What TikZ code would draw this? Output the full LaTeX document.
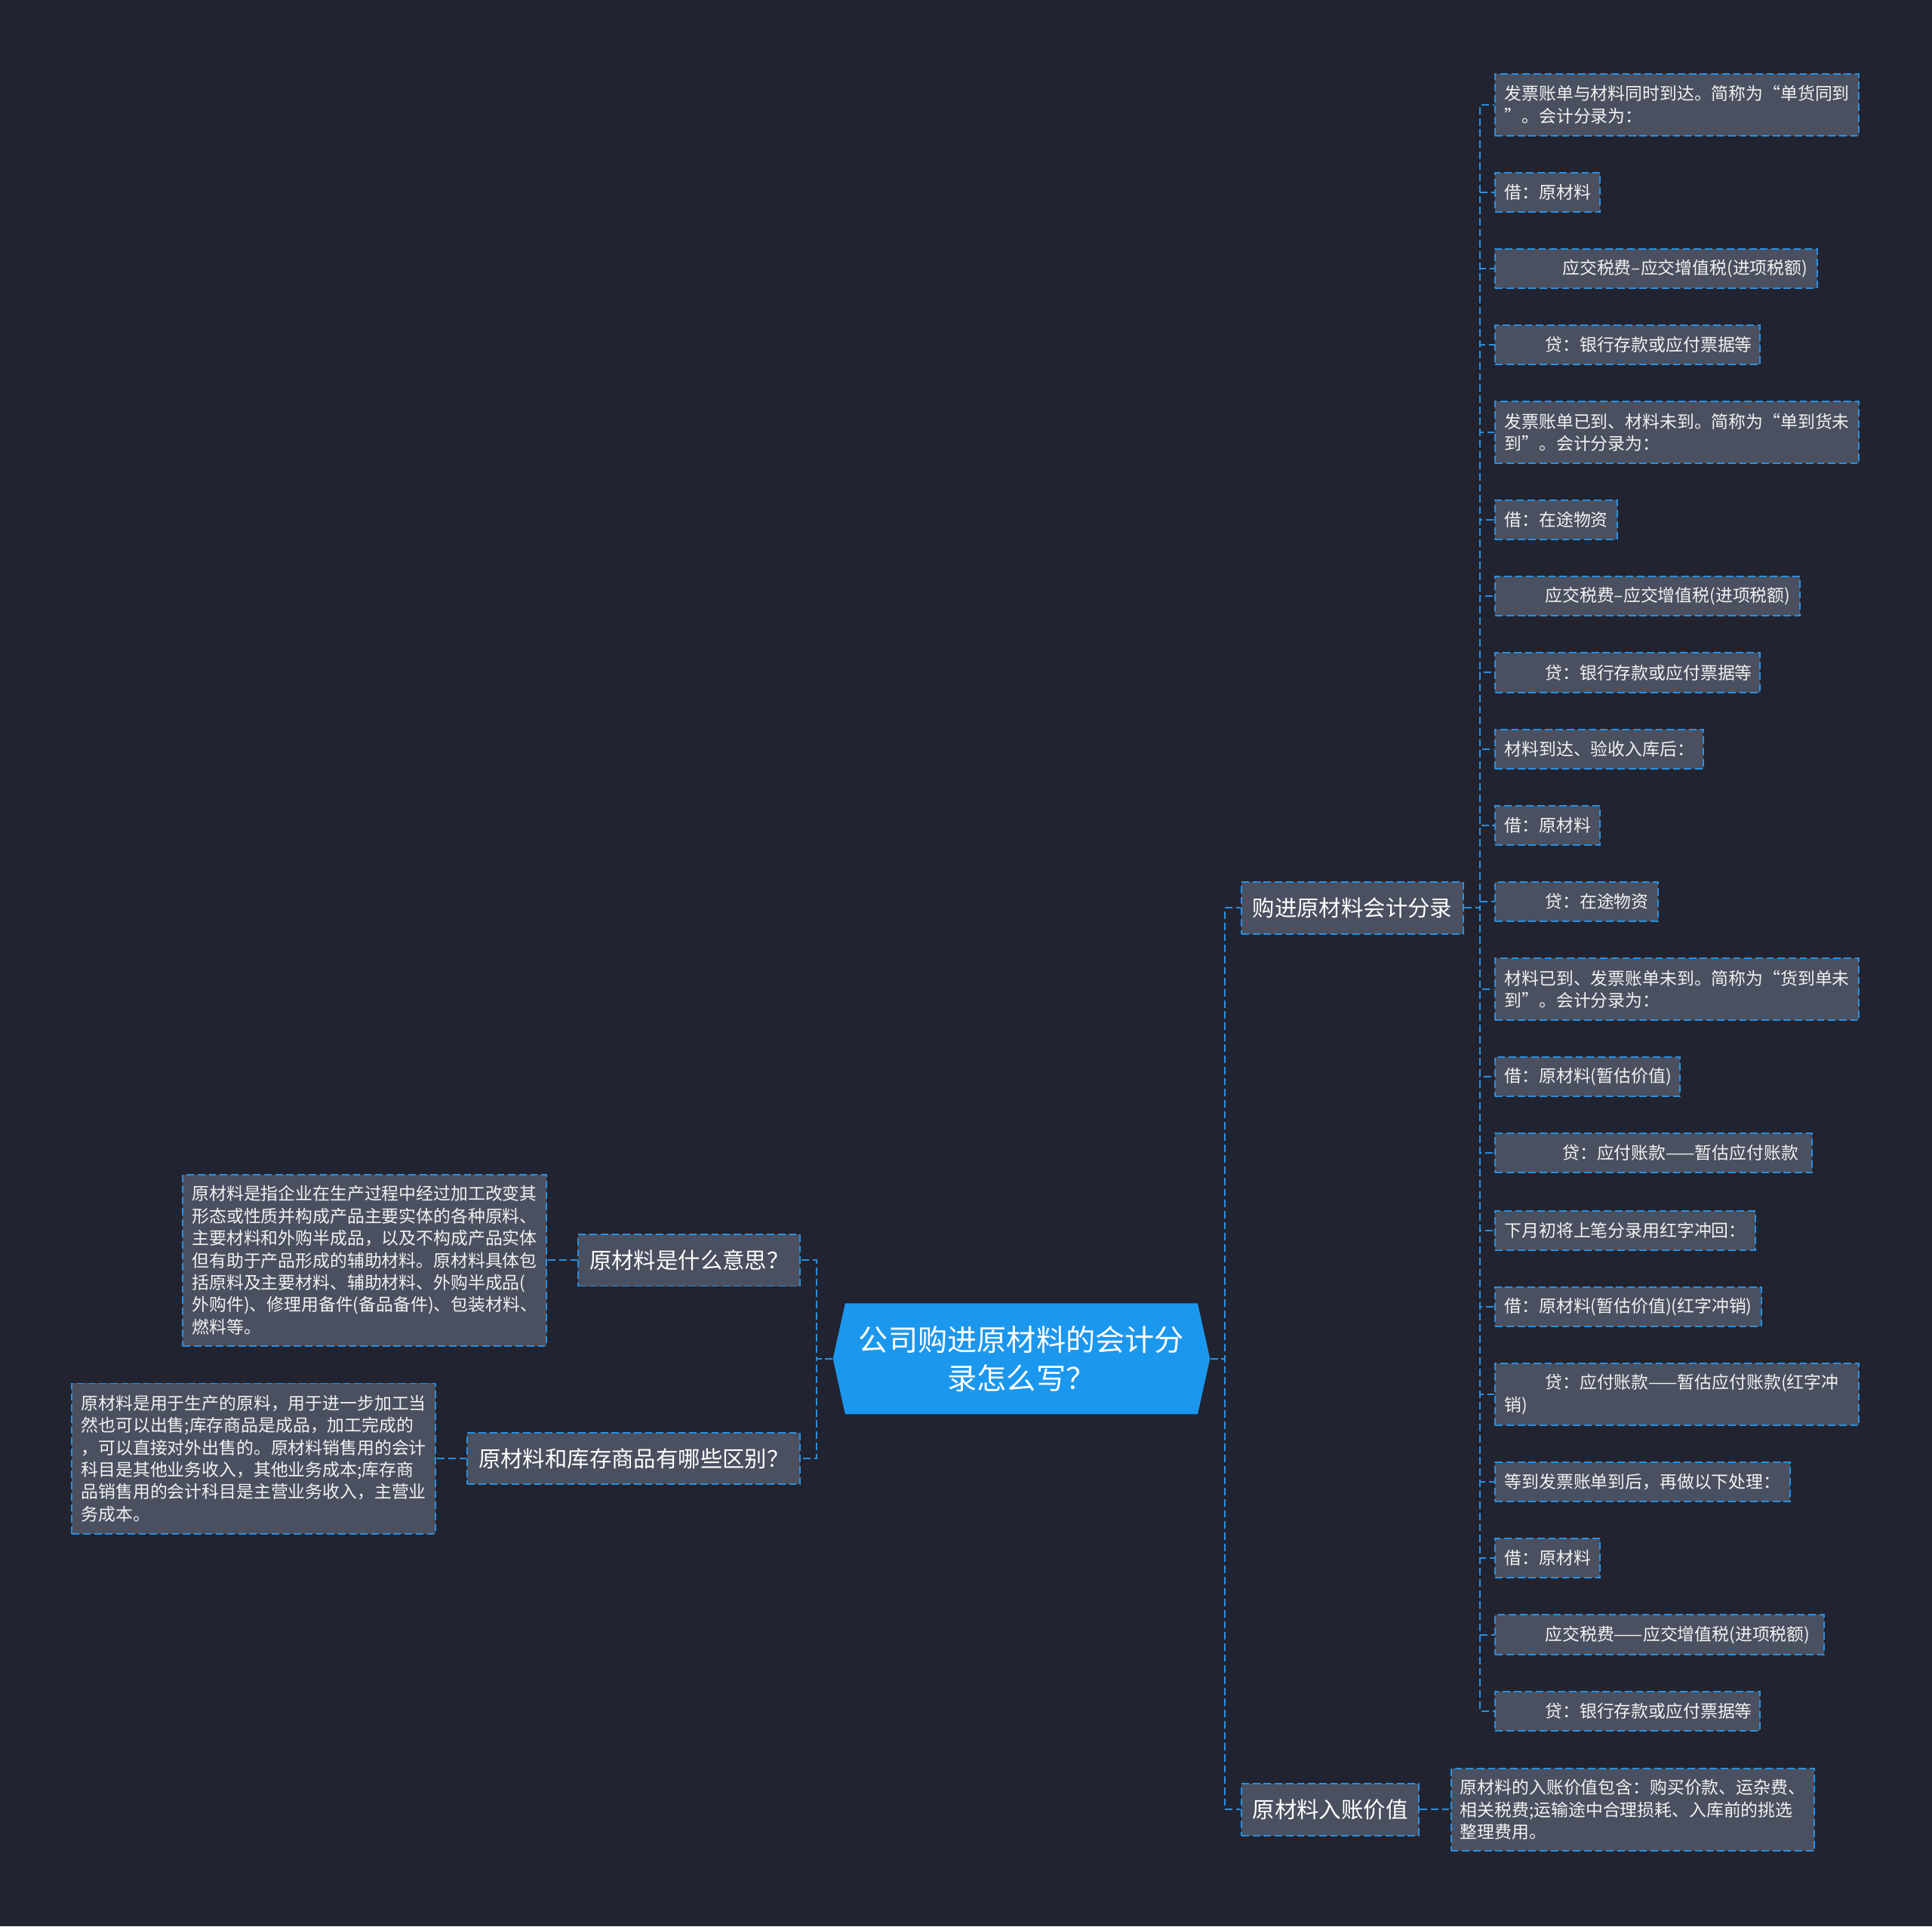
\documentclass[tikz,border=0pt]{standalone}
\usepackage{fontspec}
\setmainfont{Noto Sans CJK SC}
\usetikzlibrary{shapes.symbols}
\definecolor{bgnavy}{HTML}{212430}
\definecolor{boxgray}{HTML}{4A505F}
\definecolor{linkblue}{HTML}{2A8FE0}
\definecolor{rootblue}{HTML}{1C97EE}
\definecolor{txtlight}{HTML}{F2F2F2}
\newdimen\pxu \pxu=0.25mm
\newcommand{\indentpx}[1]{\leavevmode\kern#1\pxu}

\begin{document}
\begin{tikzpicture}[x=0.25mm, y=-0.25mm,
  link/.style={draw=linkblue, line width=0.3mm, dash pattern=on 1.5mm off 0.75mm},
  leaf/.style={draw=linkblue, line width=0.3mm, dash pattern=on 1.5mm off 0.75mm,
    fill=boxgray, text=txtlight, font=\fontsize{3.5mm}{4.5mm}\selectfont,
    align=left, anchor=west, inner xsep=7.5\pxu, inner ysep=0pt},
  branch/.style={draw=linkblue, line width=0.3mm, dash pattern=on 1.5mm off 0.75mm,
    fill=boxgray, text=white, font=\fontsize{4.5mm}{5.5mm}\selectfont,
    inner xsep=9\pxu, inner ysep=0pt, minimum height=42\pxu}]

% Background
\fill[bgnavy] (0,0) rectangle (1568,1564);

% --- Root ---
\node[shape=signal, signal to=east and west, signal pointer angle=155,
      fill=rootblue, text=white, align=center, inner sep=0pt,
      minimum width=306\pxu, minimum height=90\pxu,
      font=\fontsize{6mm}{7.75mm}\selectfont] (root) at (829,1103)
  {公司购进原材料的会计分\\录怎么写？};

% --- Branches ---
\node[branch, anchor=west] (b1) at (1007,737) {购进原材料会计分录};
\node[branch, anchor=west] (b2) at (1007,1469) {原材料入账价值};
\node[branch, anchor=east] (l1) at (650,1023) {原材料是什么意思？};
\node[branch, anchor=east] (l2) at (650,1184) {原材料和库存商品有哪些区别？};

% --- Right leaves of b1 ---
\foreach \i/\y/\w/\h/\txt in {
  1/85/280/50/{发票账单与材料同时到达。简称为“单货同到\\”。会计分录为：},
  2/156/70/32/{借：原材料},
  3/218/246/32/{\indentpx{47}应交税费–应交增值税(进项税额)},
  4/280/200/32/{\indentpx{33}贷：银行存款或应付票据等},
  5/351/280/50/{发票账单已到、材料未到。简称为“单到货未\\到”。会计分录为：},
  6/422/84/32/{借：在途物资},
  7/484/232/32/{\indentpx{33}应交税费–应交增值税(进项税额)},
  8/546/200/32/{\indentpx{33}贷：银行存款或应付票据等},
  9/608/154/32/{材料到达、验收入库后：},
  10/670/70/32/{借：原材料},
  11/732/117/32/{\indentpx{33}贷：在途物资},
  12/803/280/50/{材料已到、发票账单未到。简称为“货到单未\\到”。会计分录为：},
  13/874/135/32/{借：原材料(暂估价值)},
  14/936/242/32/{\indentpx{47}贷：应付账款——暂估应付账款},
  15/999/196/32/{下月初将上笔分录用红字冲回：},
  16/1061/201/32/{借：原材料(暂估价值)(红字冲销)},
  17/1132/280/50/{\indentpx{33}贷：应付账款——暂估应付账款(红字冲\\销)},
  18/1203/224/32/{等到发票账单到后，再做以下处理：},
  19/1265/70/32/{借：原材料},
  20/1327/252/32/{\indentpx{33}应交税费——应交增值税(进项税额)},
  21/1389/200/32/{\indentpx{33}贷：银行存款或应付票据等}} {
  \node[leaf, text width=\w\pxu, minimum height=\h\pxu] (r\i) at (1213,\y) {\txt};
}

% --- Other leaves ---
\node[leaf, text width=280\pxu, minimum height=67\pxu] (b2t) at (1177,1469)
  {原材料的入账价值包含：购买价款、运杂费、\\相关税费;运输途中合理损耗、入库前的挑选\\整理费用。};
\node[leaf, anchor=east, text width=280\pxu, minimum height=139\pxu] (l1t) at (444,1023)
  {原材料是指企业在生产过程中经过加工改变其\\形态或性质并构成产品主要实体的各种原料、\\主要材料和外购半成品，以及不构成产品实体\\但有助于产品形成的辅助材料。原材料具体包\\括原料及主要材料、辅助材料、外购半成品(\\外购件)、修理用备件(备品备件)、包装材料、\\燃料等。};
\node[leaf, anchor=east, text width=280\pxu, minimum height=122\pxu] (l2t) at (354,1184)
  {原材料是用于生产的原料，用于进一步加工当\\然也可以出售;库存商品是成品，加工完成的\\，可以直接对外出售的。原材料销售用的会计\\科目是其他业务收入，其他业务成本;库存商\\品销售用的会计科目是主营业务收入，主营业\\务成本。};

% --- Connectors ---
\draw[link] (root.east) -- ++(12,0) |- (b1.west);
\draw[link] (root.east) -- ++(12,0) |- (b2.west);
\draw[link] (root.west) -- ++(-13,0) |- (l1.east);
\draw[link] (root.west) -- ++(-13,0) |- (l2.east);
\foreach \i in {1,...,21} {
  \draw[link] (b1.east) -- ++(13,0) |- (r\i.west);
}
\draw[link] (b2.east) -- (b2t.west);
\draw[link] (l1.west) -- (l1t.east);
\draw[link] (l2.west) -- (l2t.east);

\end{tikzpicture}
\end{document}
